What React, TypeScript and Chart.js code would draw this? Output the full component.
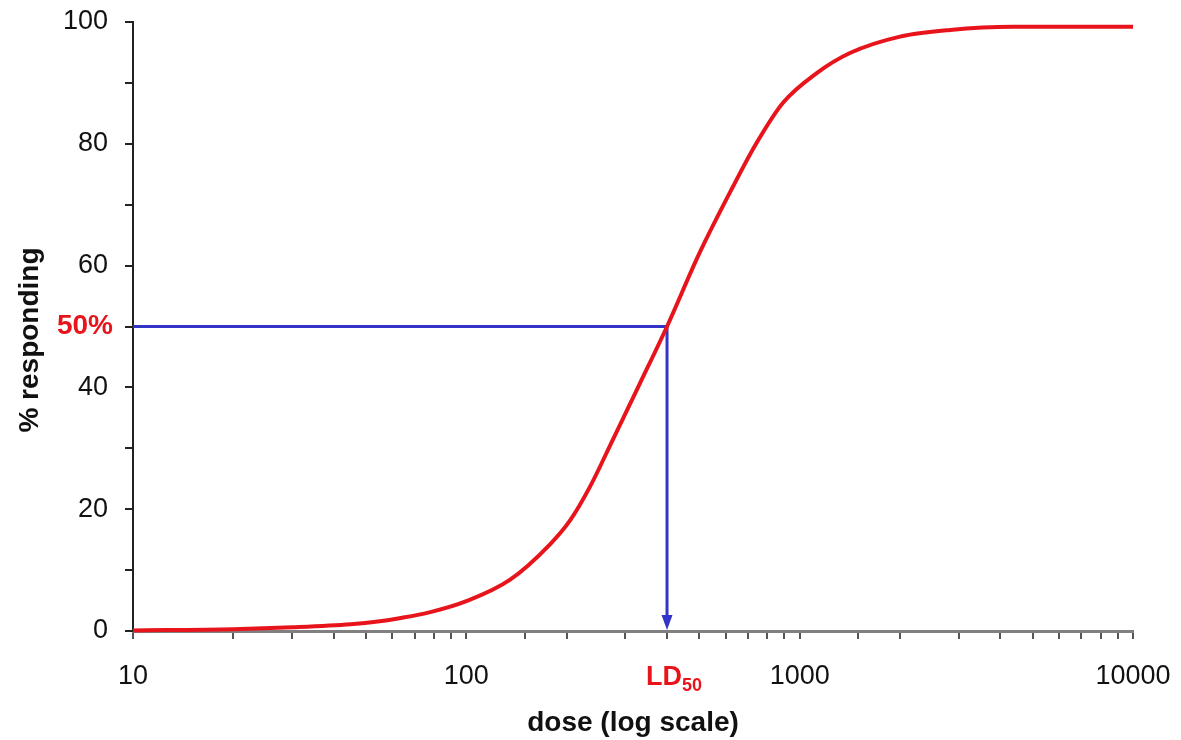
import React, { useEffect, useRef } from "react";
import { Chart, registerables } from "chart.js";

Chart.register(...registerables);

// dose (log scale) and % responding
const doses = [10, 20, 30, 45, 55, 63, 78, 100, 135, 178, 205, 235, 275, 332, 400, 500, 630, 740, 890, 1125, 1415, 2000, 2825, 4365, 10000];
const responding = [0.1, 0.3, 0.6, 1.1, 1.6, 2.1, 3.1, 4.9, 8.4, 14.2, 18.2, 23.7, 31.4, 40.7, 50, 62, 72.9, 80, 86.7, 91.6, 94.9, 97.6, 98.7, 99.2, 99.2];

const xTickLabels = [10, 100, 1000, 10000];
const yTickLabels = [0, 20, 40, 60, 80, 100];
const ld50Dose = 400;
const ld50Pct = 50;
const xMin = 10;
const xMax = 10000;
const yTitle = "% responding";
const xTitle = "dose (log scale)";

const FONT = "'Liberation Sans', Arial, sans-serif";
const RED = "#e8141c";
const BLUE = "#3434c8";

const annotationPlugin = {
  id: "ld50Annotations",
  afterDatasetsDraw(chart: any) {
    const { ctx, scales } = chart;
    const x = scales.x;
    const y = scales.y;
    const px = x.getPixelForValue(ld50Dose);
    const py0 = y.getPixelForValue(0);
    const py50 = y.getPixelForValue(ld50Pct);
    ctx.save();
    // arrowhead
    ctx.fillStyle = BLUE;
    ctx.beginPath();
    ctx.moveTo(px, py0 - 1);
    ctx.lineTo(px - 5.5, py0 - 16);
    ctx.lineTo(px + 5.5, py0 - 16);
    ctx.closePath();
    ctx.fill();
    // 50% label
    ctx.fillStyle = RED;
    ctx.font = `bold 28px ${FONT}`;
    ctx.textAlign = "right";
    ctx.textBaseline = "middle";
    ctx.fillText(`${ld50Pct}%`, 113, py50);
    // LD50 label
    ctx.font = `bold 27px ${FONT}`;
    ctx.textAlign = "left";
    ctx.textBaseline = "alphabetic";
    const ldW = ctx.measureText("LD").width;
    const sx = px - ldW / 2 - 3;
    const base = 685;
    ctx.fillText("LD", sx, base);
    ctx.font = `bold 18px ${FONT}`;
    ctx.fillText(String(ld50Pct), sx + ldW, base + 6);
    // y title
    ctx.fillStyle = "#111";
    ctx.font = `bold 28px ${FONT}`;
    ctx.textAlign = "center";
    ctx.textBaseline = "middle";
    ctx.translate(30, 340);
    ctx.rotate(-Math.PI / 2);
    ctx.fillText(yTitle, 0, 0);
    ctx.restore();
  },
};

export default function App() {
  const ref = useRef<HTMLCanvasElement>(null);
  useEffect(() => {
    if (!ref.current) return;
    const chart = new Chart(ref.current, {
      type: "line",
      data: {
        datasets: [
          {
            data: doses.map((d, i) => ({ x: d, y: responding[i] })),
            borderColor: RED,
            borderWidth: 4,
            pointRadius: 0,
            cubicInterpolationMode: "monotone",
            fill: false,
            clip: false as any,
            order: 1,
          },
          {
            data: [
              { x: xMin, y: ld50Pct },
              { x: ld50Dose, y: ld50Pct },
              { x: ld50Dose, y: 1.5 },
            ],
            borderColor: BLUE,
            borderWidth: 3,
            pointRadius: 0,
            tension: 0,
            fill: false,
            clip: false as any,
            order: 2,
          },
        ],
      },
      options: {
        animation: false,
        responsive: true,
        maintainAspectRatio: false,
        layout: { padding: { top: 22, right: 48, left: 0, bottom: 0 } },
        plugins: { legend: { display: false }, tooltip: { enabled: false } },
        scales: {
          x: {
            type: "logarithmic",
            min: xMin,
            max: xMax,
            afterFit: (s: any) => {
              s.height = 109;
              s.paddingLeft = 0;
              s.paddingRight = 0;
            },
            border: { display: true, color: "#808080", width: 3 },
            grid: {
              drawOnChartArea: false,
              drawTicks: true,
              tickLength: 8,
              tickColor: "#555",
              lineWidth: 2,
            },
            ticks: {
              autoSkip: false,
              maxRotation: 0,
              padding: 21,
              color: "#111",
              font: { family: FONT, size: 27 },
              callback: (v: any) => (xTickLabels.includes(Number(v)) ? String(v) : ""),
            },
            title: {
              display: true,
              text: xTitle,
              color: "#111",
              font: { family: FONT, size: 28, weight: "bold" },
              padding: { top: 0, bottom: 0 },
            },
          },
          y: {
            min: 0,
            max: 100,
            afterFit: (s: any) => {
              s.width = 133;
              s.paddingTop = 0;
              s.paddingBottom = 0;
            },
            border: { display: true, color: "#222", width: 2 },
            grid: {
              drawOnChartArea: false,
              drawTicks: true,
              tickLength: 8,
              tickColor: "#222",
              lineWidth: 2,
            },
            ticks: {
              stepSize: 10,
              autoSkip: false,
              padding: 17,
              color: "#111",
              font: { family: FONT, size: 27 },
              callback: (v: any) => (yTickLabels.includes(Number(v)) ? String(v) : ""),
            },
          },
        },
      },
      plugins: [annotationPlugin],
    });
    return () => chart.destroy();
  }, []);
  return (
    <div style={{ position: "absolute", left: 0, top: 0, width: 1181, height: 740, background: "#fff" }}>
      <canvas ref={ref} />
    </div>
  );
}
